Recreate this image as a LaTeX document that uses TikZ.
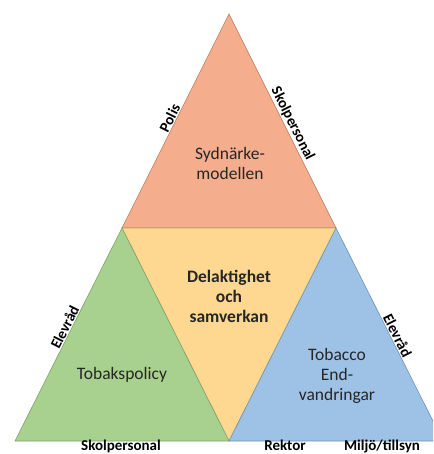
\documentclass[tikz,border=0pt]{standalone}
\usepackage{fontspec}
\setmainfont{Carlito}
\usetikzlibrary{calc}
\definecolor{topfill}{HTML}{F4AD8D}
\definecolor{topline}{HTML}{B57A5E}
\definecolor{midfill}{HTML}{FED890}
\definecolor{midline}{HTML}{C9A25E}
\definecolor{grnfill}{HTML}{A8D08E}
\definecolor{grnline}{HTML}{7FA466}
\definecolor{blufill}{HTML}{9DC2E5}
\definecolor{bluline}{HTML}{6F93B5}
\definecolor{txt}{HTML}{262626}
\tikzset{
  body/.style={font=\fontsize{17.5}{20}\selectfont, text=txt, align=center, inner sep=0pt},
  boldbody/.style={body, font=\fontsize{17.5}{20}\selectfont\bfseries},
  edgelbl/.style={font=\fontsize{15}{17}\selectfont\bfseries, text=black, inner sep=1pt, anchor=south},
  baselbl/.style={font=\fontsize{15}{17}\selectfont\bfseries, text=black, inner sep=0pt, anchor=base}
}
\begin{document}
\begin{tikzpicture}[x=1pt,y=-1pt]
\useasboundingbox (0,0) rectangle (433,454);
\clip (0,0) rectangle (433,454);
\fill[white] (0,0) rectangle (433,454);
\coordinate (A) at (229,14);
\coordinate (L) at (122,228);
\coordinate (R) at (336,228);
\coordinate (BL) at (15,441);
\coordinate (BM) at (229,441);
\coordinate (BR) at (443,441);
% triangles
\filldraw[fill=topfill, draw=topline, line width=0.6pt] (A) -- (L) -- (R) -- cycle;
\filldraw[fill=midfill, draw=midline, line width=0.6pt] (L) -- (R) -- (BM) -- cycle;
\filldraw[fill=grnfill, draw=grnline, line width=0.6pt] (L) -- (BM) -- (BL) -- cycle;
\filldraw[fill=blufill, draw=bluline, line width=0.6pt] (R) -- (BR) -- (BM) -- cycle;
% centre texts
\node[body] (syd) at (230,163) {Sydnärke-\\modellen};
\node[boldbody] (del) at (229,296) {Delaktighet\\och\\samverkan};
\node[body] (tob) at (122,375) {Tobakspolicy};
\node[body] (tec) at (337,376) {Tobacco\\End-\\vandringar};
% edge labels
\node[edgelbl, rotate=63.4] (polis) at ($(A)!0.25!(BL)$) {Polis};
\node[edgelbl, rotate=-63.4] (skol1) at ($(A)!0.265!(BR)$) {Skolpersonal};
\node[edgelbl, rotate=63.4] (elevL) at ($(A)!0.74!(BL)$) {Elevråd};
\node[edgelbl, rotate=-63.4] (elevR) at ($(A)!0.76!(BR)$) {Elevråd};
% bottom labels
\node[baselbl] (skol2) at (121,450) {Skolpersonal};
\node[baselbl] (rek) at (285,450) {Rektor};
\node[baselbl] (mil) at (382,450) {Miljö/tillsyn};
\end{tikzpicture}
\end{document}
